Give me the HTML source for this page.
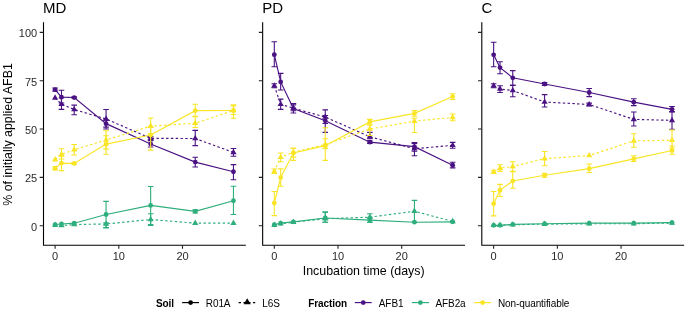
<!DOCTYPE html>
<html><head><meta charset="utf-8"><style>html,body{margin:0;padding:0;background:#fff;width:685px;height:311px;overflow:hidden}svg{display:block;will-change:transform}</style></head><body>
<svg width="685" height="311" viewBox="0 0 685 311">
<rect width="685" height="311" fill="#fff"/>
<path d="M55.1 89.62 L61.47 97.16 L74.21 97.54 L106.06 123.64 L150.65 143.93 L195.24 162.1 L233.46 171.77" fill="none" stroke="#4A1282" stroke-width="1.15"/>
<path d="M55.1 97.93 L61.47 104.11 L74.21 109.53 L106.06 119 L150.65 138.33 L195.24 138.52 L233.46 152.44" fill="none" stroke="#4A1282" stroke-width="1.15" stroke-dasharray="2.4 2.4"/>
<path d="M55.1 224.54 L61.47 223.96 L74.21 223.19 L106.06 214.49 L150.65 205.4 L195.24 211.4 L233.46 200.76" fill="none" stroke="#2EAE7C" stroke-width="1.15"/>
<path d="M55.1 225.12 L61.47 225.51 L74.21 224.54 L106.06 223.96 L150.65 219.51 L195.24 223.19 L233.46 223.19" fill="none" stroke="#2EAE7C" stroke-width="1.15" stroke-dasharray="2.4 2.4"/>
<path d="M55.1 168.29 L61.47 163.07 L74.21 163.46 L106.06 144.13 L150.65 135.04 L195.24 110.69 L233.46 110.49" fill="none" stroke="#F9E526" stroke-width="1.15"/>
<path d="M55.1 159.59 L61.47 154.37 L74.21 149.73 L106.06 140.07 L150.65 126.15 L195.24 123.25 L233.46 110.49" fill="none" stroke="#F9E526" stroke-width="1.15" stroke-dasharray="2.4 2.4"/>
<path d="M52.3 88.07H57.9M55.1 88.07V91.16M52.3 91.16H57.9M58.67 90.2H64.27M61.47 90.2V102.95M58.67 102.95H64.27M71.41 96.77H77.01M74.21 96.77V98.32M71.41 98.32H77.01M103.26 120.16H108.86M106.06 120.16V127.12M103.26 127.12H108.86M147.85 140.26H153.45M150.65 140.26V147.03M147.85 147.03H153.45M192.44 157.27H198.04M195.24 157.27V166.94M192.44 166.94H198.04M230.66 164.62H236.26M233.46 164.62V179.69M230.66 179.69H236.26" fill="none" stroke="#4A1282" stroke-width="1.1"/>
<circle cx="55.1" cy="89.62" r="2.4" fill="#4A1282"/>
<circle cx="61.47" cy="97.16" r="2.4" fill="#4A1282"/>
<circle cx="74.21" cy="97.54" r="2.4" fill="#4A1282"/>
<circle cx="106.06" cy="123.64" r="2.4" fill="#4A1282"/>
<circle cx="150.65" cy="143.93" r="2.4" fill="#4A1282"/>
<circle cx="195.24" cy="162.1" r="2.4" fill="#4A1282"/>
<circle cx="233.46" cy="171.77" r="2.4" fill="#4A1282"/>
<path d="M58.67 97.74H64.27M61.47 97.74V109.33M58.67 109.33H64.27M71.41 105.08H77.01M74.21 105.08V114.75M71.41 114.75H77.01M103.26 109.53H108.86M106.06 109.53V129.05M103.26 129.05H108.86M147.85 136.59H153.45M150.65 136.59V140.65M147.85 140.65H153.45M192.44 130.4H198.04M195.24 130.4V145.67M192.44 145.67H198.04M230.66 148.57H236.26M233.46 148.57V156.31M230.66 156.31H236.26" fill="none" stroke="#4A1282" stroke-width="1.1"/>
<path d="M55.1 94.35L58.2 99.72L52 99.72Z" fill="#4A1282"/>
<path d="M61.47 100.53L64.57 105.9L58.37 105.9Z" fill="#4A1282"/>
<path d="M74.21 105.95L77.31 111.32L71.11 111.32Z" fill="#4A1282"/>
<path d="M106.06 115.42L109.16 120.79L102.96 120.79Z" fill="#4A1282"/>
<path d="M150.65 134.75L153.75 140.12L147.55 140.12Z" fill="#4A1282"/>
<path d="M195.24 134.94L198.34 140.31L192.14 140.31Z" fill="#4A1282"/>
<path d="M233.46 148.86L236.56 154.23L230.36 154.23Z" fill="#4A1282"/>
<path d="M103.26 201.34H108.86M106.06 201.34V227.83M103.26 227.83H108.86M147.85 186.46H153.45M150.65 186.46V224.54M147.85 224.54H153.45M192.44 209.85H198.04M195.24 209.85V212.94M192.44 212.94H198.04M230.66 186.27H236.26M233.46 186.27V214.49M230.66 214.49H236.26" fill="none" stroke="#2EAE7C" stroke-width="1.1"/>
<circle cx="55.1" cy="224.54" r="2.4" fill="#2EAE7C"/>
<circle cx="61.47" cy="223.96" r="2.4" fill="#2EAE7C"/>
<circle cx="74.21" cy="223.19" r="2.4" fill="#2EAE7C"/>
<circle cx="106.06" cy="214.49" r="2.4" fill="#2EAE7C"/>
<circle cx="150.65" cy="205.4" r="2.4" fill="#2EAE7C"/>
<circle cx="195.24" cy="211.4" r="2.4" fill="#2EAE7C"/>
<circle cx="233.46" cy="200.76" r="2.4" fill="#2EAE7C"/>
<path d="M103.26 222.8H108.86M106.06 222.8V227.44M103.26 227.44H108.86M147.85 213.72H153.45M150.65 213.72V225.51M147.85 225.51H153.45" fill="none" stroke="#2EAE7C" stroke-width="1.1"/>
<path d="M55.1 221.54L58.2 226.91L52 226.91Z" fill="#2EAE7C"/>
<path d="M61.47 221.93L64.57 227.3L58.37 227.3Z" fill="#2EAE7C"/>
<path d="M74.21 220.96L77.31 226.33L71.11 226.33Z" fill="#2EAE7C"/>
<path d="M106.06 220.38L109.16 225.75L102.96 225.75Z" fill="#2EAE7C"/>
<path d="M150.65 215.93L153.75 221.3L147.55 221.3Z" fill="#2EAE7C"/>
<path d="M195.24 219.61L198.34 224.98L192.14 224.98Z" fill="#2EAE7C"/>
<path d="M233.46 219.61L236.56 224.98L230.36 224.98Z" fill="#2EAE7C"/>
<path d="M52.3 166.74H57.9M55.1 166.74V169.84M52.3 169.84H57.9M58.67 156.11H64.27M61.47 156.11V170.61M58.67 170.61H64.27M71.41 162.49H77.01M74.21 162.49V164.42M71.41 164.42H77.01M103.26 135.82H108.86M106.06 135.82V154.18M103.26 154.18H108.86M147.85 127.12H153.45M150.65 127.12V150.12M147.85 150.12H153.45M192.44 104.31H198.04M195.24 104.31V116.29M192.44 116.29H198.04M230.66 104.69H236.26M233.46 104.69V118.23M230.66 118.23H236.26" fill="none" stroke="#F9E526" stroke-width="1.1"/>
<circle cx="55.1" cy="168.29" r="2.4" fill="#F9E526"/>
<circle cx="61.47" cy="163.07" r="2.4" fill="#F9E526"/>
<circle cx="74.21" cy="163.46" r="2.4" fill="#F9E526"/>
<circle cx="106.06" cy="144.13" r="2.4" fill="#F9E526"/>
<circle cx="150.65" cy="135.04" r="2.4" fill="#F9E526"/>
<circle cx="195.24" cy="110.69" r="2.4" fill="#F9E526"/>
<circle cx="233.46" cy="110.49" r="2.4" fill="#F9E526"/>
<path d="M58.67 148.77H64.27M61.47 148.77V159.01M58.67 159.01H64.27M71.41 144.51H77.01M74.21 144.51V154.95M71.41 154.95H77.01M103.26 130.79H108.86M106.06 130.79V149.15M103.26 149.15H108.86M147.85 118.03H153.45M150.65 118.03V133.88M147.85 133.88H153.45M192.44 116.68H198.04M195.24 116.68V127.5M192.44 127.5H198.04M230.66 105.85H236.26M233.46 105.85V114.55M230.66 114.55H236.26" fill="none" stroke="#F9E526" stroke-width="1.1"/>
<path d="M55.1 156.01L58.2 161.38L52 161.38Z" fill="#F9E526"/>
<path d="M61.47 150.79L64.57 156.16L58.37 156.16Z" fill="#F9E526"/>
<path d="M74.21 146.15L77.31 151.52L71.11 151.52Z" fill="#F9E526"/>
<path d="M106.06 136.49L109.16 141.86L102.96 141.86Z" fill="#F9E526"/>
<path d="M150.65 122.57L153.75 127.94L147.55 127.94Z" fill="#F9E526"/>
<path d="M195.24 119.67L198.34 125.04L192.14 125.04Z" fill="#F9E526"/>
<path d="M233.46 106.91L236.56 112.28L230.36 112.28Z" fill="#F9E526"/>
<path d="M274.3 54.63 L280.67 81.88 L293.41 108.56 L325.26 120.74 L369.85 142.19 L414.44 146.64 L452.66 165.2" fill="none" stroke="#4A1282" stroke-width="1.15"/>
<path d="M274.3 85.75 L280.67 104.31 L293.41 108.17 L325.26 117.07 L369.85 136.78 L414.44 148.77 L452.66 145.29" fill="none" stroke="#4A1282" stroke-width="1.15" stroke-dasharray="2.4 2.4"/>
<path d="M274.3 224.73 L280.67 223.19 L293.41 221.83 L325.26 217.97 L369.85 220.09 L414.44 222.22 L452.66 221.83" fill="none" stroke="#2EAE7C" stroke-width="1.15"/>
<path d="M274.3 225.12 L280.67 223.77 L293.41 222.22 L325.26 218.74 L369.85 217.19 L414.44 211.2 L452.66 221.45" fill="none" stroke="#2EAE7C" stroke-width="1.15" stroke-dasharray="2.4 2.4"/>
<path d="M274.3 203.08 L280.67 177.57 L293.41 153.02 L325.26 145.67 L369.85 121.9 L414.44 113.39 L452.66 96.58" fill="none" stroke="#F9E526" stroke-width="1.15"/>
<path d="M274.3 171.58 L280.67 157.27 L293.41 152.25 L325.26 144.51 L369.85 129.05 L414.44 121.12 L452.66 117.45" fill="none" stroke="#F9E526" stroke-width="1.15" stroke-dasharray="2.4 2.4"/>
<path d="M271.5 41.68H277.1M274.3 41.68V66.81M271.5 66.81H277.1M277.87 73.38H283.47M280.67 73.38V90M277.87 90H283.47M290.61 103.53H296.21M293.41 103.53V113.01M290.61 113.01H296.21M322.46 115.52H328.06M325.26 115.52V132.34M322.46 132.34H328.06M367.05 140.84H372.65M369.85 140.84V143.55M367.05 143.55H372.65M411.64 142.58H417.24M414.44 142.58V151.28M411.64 151.28H417.24M449.86 162.3H455.46M452.66 162.3V167.9M449.86 167.9H455.46" fill="none" stroke="#4A1282" stroke-width="1.1"/>
<circle cx="274.3" cy="54.63" r="2.4" fill="#4A1282"/>
<circle cx="280.67" cy="81.88" r="2.4" fill="#4A1282"/>
<circle cx="293.41" cy="108.56" r="2.4" fill="#4A1282"/>
<circle cx="325.26" cy="120.74" r="2.4" fill="#4A1282"/>
<circle cx="369.85" cy="142.19" r="2.4" fill="#4A1282"/>
<circle cx="414.44" cy="146.64" r="2.4" fill="#4A1282"/>
<circle cx="452.66" cy="165.2" r="2.4" fill="#4A1282"/>
<path d="M271.5 83.82H277.1M274.3 83.82V87.68M271.5 87.68H277.1M277.87 99.09H283.47M280.67 99.09V109.33M277.87 109.33H283.47M290.61 104.89H296.21M293.41 104.89V110.69M290.61 110.69H296.21M322.46 109.91H328.06M325.26 109.91V123.44M322.46 123.44H328.06M367.05 132.34H372.65M369.85 132.34V138.71M367.05 138.71H372.65M411.64 143.55H417.24M414.44 143.55V155.73M411.64 155.73H417.24M449.86 142.39H455.46M452.66 142.39V148.19M449.86 148.19H455.46" fill="none" stroke="#4A1282" stroke-width="1.1"/>
<path d="M274.3 82.17L277.4 87.54L271.2 87.54Z" fill="#4A1282"/>
<path d="M280.67 100.73L283.77 106.1L277.57 106.1Z" fill="#4A1282"/>
<path d="M293.41 104.59L296.51 109.96L290.31 109.96Z" fill="#4A1282"/>
<path d="M325.26 113.49L328.36 118.86L322.16 118.86Z" fill="#4A1282"/>
<path d="M369.85 133.2L372.95 138.57L366.75 138.57Z" fill="#4A1282"/>
<path d="M414.44 145.19L417.54 150.56L411.34 150.56Z" fill="#4A1282"/>
<path d="M452.66 141.71L455.76 147.08L449.56 147.08Z" fill="#4A1282"/>
<path d="M322.46 212.17H328.06M325.26 212.17V222.22M322.46 222.22H328.06M367.05 217.97H372.65M369.85 217.97V222.22M367.05 222.22H372.65" fill="none" stroke="#2EAE7C" stroke-width="1.1"/>
<circle cx="274.3" cy="224.73" r="2.4" fill="#2EAE7C"/>
<circle cx="280.67" cy="223.19" r="2.4" fill="#2EAE7C"/>
<circle cx="293.41" cy="221.83" r="2.4" fill="#2EAE7C"/>
<circle cx="325.26" cy="217.97" r="2.4" fill="#2EAE7C"/>
<circle cx="369.85" cy="220.09" r="2.4" fill="#2EAE7C"/>
<circle cx="414.44" cy="222.22" r="2.4" fill="#2EAE7C"/>
<circle cx="452.66" cy="221.83" r="2.4" fill="#2EAE7C"/>
<path d="M322.46 212.17H328.06M325.26 212.17V222.22M322.46 222.22H328.06M367.05 213.72H372.65M369.85 213.72V222.22M367.05 222.22H372.65M411.64 200.38H417.24M414.44 200.38V222.22M411.64 222.22H417.24" fill="none" stroke="#2EAE7C" stroke-width="1.1"/>
<path d="M274.3 221.54L277.4 226.91L271.2 226.91Z" fill="#2EAE7C"/>
<path d="M280.67 220.19L283.77 225.56L277.57 225.56Z" fill="#2EAE7C"/>
<path d="M293.41 218.64L296.51 224.01L290.31 224.01Z" fill="#2EAE7C"/>
<path d="M325.26 215.16L328.36 220.53L322.16 220.53Z" fill="#2EAE7C"/>
<path d="M369.85 213.62L372.95 218.98L366.75 218.98Z" fill="#2EAE7C"/>
<path d="M414.44 207.62L417.54 212.99L411.34 212.99Z" fill="#2EAE7C"/>
<path d="M452.66 217.87L455.76 223.24L449.56 223.24Z" fill="#2EAE7C"/>
<path d="M271.5 191.49H277.1M274.3 191.49V215.65M271.5 215.65H277.1M277.87 168.87H283.47M280.67 168.87V186.27M277.87 186.27H283.47M290.61 148.57H296.21M293.41 148.57V160.36M290.61 160.36H296.21M322.46 127.7H328.06M325.26 127.7V160.36M322.46 160.36H328.06M367.05 119.38H372.65M369.85 119.38V124.22M367.05 124.22H372.65M411.64 110.49H417.24M414.44 110.49V116.29M411.64 116.29H417.24M449.86 93.68H455.46M452.66 93.68V99.48M449.86 99.48H455.46" fill="none" stroke="#F9E526" stroke-width="1.1"/>
<circle cx="274.3" cy="203.08" r="2.4" fill="#F9E526"/>
<circle cx="280.67" cy="177.57" r="2.4" fill="#F9E526"/>
<circle cx="293.41" cy="153.02" r="2.4" fill="#F9E526"/>
<circle cx="325.26" cy="145.67" r="2.4" fill="#F9E526"/>
<circle cx="369.85" cy="121.9" r="2.4" fill="#F9E526"/>
<circle cx="414.44" cy="113.39" r="2.4" fill="#F9E526"/>
<circle cx="452.66" cy="96.58" r="2.4" fill="#F9E526"/>
<path d="M271.5 169.06H277.1M274.3 169.06V173.51M271.5 173.51H277.1M277.87 153.02H283.47M280.67 153.02V161.72M277.87 161.72H283.47M290.61 147.99H296.21M293.41 147.99V157.08M290.61 157.08H296.21M322.46 138.71H328.06M325.26 138.71V148.38M322.46 148.38H328.06M367.05 125.18H372.65M369.85 125.18V135.43M367.05 135.43H372.65M411.64 118.23H417.24M414.44 118.23V132.53M411.64 132.53H417.24M449.86 113.97H455.46M452.66 113.97V120.74M449.86 120.74H455.46" fill="none" stroke="#F9E526" stroke-width="1.1"/>
<path d="M274.3 168L277.4 173.37L271.2 173.37Z" fill="#F9E526"/>
<path d="M280.67 153.69L283.77 159.06L277.57 159.06Z" fill="#F9E526"/>
<path d="M293.41 148.67L296.51 154.04L290.31 154.04Z" fill="#F9E526"/>
<path d="M325.26 140.93L328.36 146.3L322.16 146.3Z" fill="#F9E526"/>
<path d="M369.85 125.47L372.95 130.84L366.75 130.84Z" fill="#F9E526"/>
<path d="M414.44 117.55L417.54 122.91L411.34 122.91Z" fill="#F9E526"/>
<path d="M452.66 113.87L455.76 119.24L449.56 119.24Z" fill="#F9E526"/>
<path d="M493.65 54.82 L500.02 67.58 L512.76 77.83 L544.61 84.01 L589.2 92.52 L633.79 102.18 L672.01 109.33" fill="none" stroke="#4A1282" stroke-width="1.15"/>
<path d="M493.65 85.75 L500.02 89.04 L512.76 90.58 L544.61 101.99 L589.2 104.5 L633.79 119.38 L672.01 120.35" fill="none" stroke="#4A1282" stroke-width="1.15" stroke-dasharray="2.4 2.4"/>
<path d="M493.65 225.31 L500.02 225.31 L512.76 224.35 L544.61 223.77 L589.2 223.19 L633.79 223.19 L672.01 222.61" fill="none" stroke="#2EAE7C" stroke-width="1.15"/>
<path d="M493.65 225.31 L500.02 225.12 L512.76 224.73 L544.61 224.15 L589.2 223.77 L633.79 223.77 L672.01 222.99" fill="none" stroke="#2EAE7C" stroke-width="1.15" stroke-dasharray="2.4 2.4"/>
<path d="M493.65 203.66 L500.02 190.13 L512.76 181.05 L544.61 175.25 L589.2 168.68 L633.79 158.82 L672.01 150.51" fill="none" stroke="#F9E526" stroke-width="1.15"/>
<path d="M493.65 171.96 L500.02 168.1 L512.76 166.55 L544.61 158.62 L589.2 155.53 L633.79 140.84 L672.01 140.26" fill="none" stroke="#F9E526" stroke-width="1.15" stroke-dasharray="2.4 2.4"/>
<path d="M490.85 42.26H496.45M493.65 42.26V66.81M490.85 66.81H496.45M497.22 61.78H502.82M500.02 61.78V73.77M497.22 73.77H502.82M509.96 70.67H515.56M512.76 70.67V85.36M509.96 85.36H515.56M541.81 82.66H547.41M544.61 82.66V85.36M541.81 85.36H547.41M586.4 88.46H592M589.2 88.46V96.58M586.4 96.58H592M630.99 98.7H636.59M633.79 98.7V105.66M630.99 105.66H636.59M669.21 106.43H674.81M672.01 106.43V111.65M669.21 111.65H674.81" fill="none" stroke="#4A1282" stroke-width="1.1"/>
<circle cx="493.65" cy="54.82" r="2.4" fill="#4A1282"/>
<circle cx="500.02" cy="67.58" r="2.4" fill="#4A1282"/>
<circle cx="512.76" cy="77.83" r="2.4" fill="#4A1282"/>
<circle cx="544.61" cy="84.01" r="2.4" fill="#4A1282"/>
<circle cx="589.2" cy="92.52" r="2.4" fill="#4A1282"/>
<circle cx="633.79" cy="102.18" r="2.4" fill="#4A1282"/>
<circle cx="672.01" cy="109.33" r="2.4" fill="#4A1282"/>
<path d="M490.85 83.82H496.45M493.65 83.82V87.68M490.85 87.68H496.45M497.22 85.75H502.82M500.02 85.75V92.52M497.22 92.52H502.82M509.96 85.36H515.56M512.76 85.36V96.77M509.96 96.77H515.56M541.81 94.64H547.41M544.61 94.64V107.01M541.81 107.01H547.41M586.4 103.15H592M589.2 103.15V105.85M586.4 105.85H592M630.99 112.04H636.59M633.79 112.04V125.96M630.99 125.96H636.59M669.21 111.85H674.81M672.01 111.85V129.24M669.21 129.24H674.81" fill="none" stroke="#4A1282" stroke-width="1.1"/>
<path d="M493.65 82.17L496.75 87.54L490.55 87.54Z" fill="#4A1282"/>
<path d="M500.02 85.46L503.12 90.83L496.92 90.83Z" fill="#4A1282"/>
<path d="M512.76 87L515.86 92.37L509.66 92.37Z" fill="#4A1282"/>
<path d="M544.61 98.41L547.71 103.78L541.51 103.78Z" fill="#4A1282"/>
<path d="M589.2 100.92L592.3 106.29L586.1 106.29Z" fill="#4A1282"/>
<path d="M633.79 115.81L636.89 121.17L630.69 121.17Z" fill="#4A1282"/>
<path d="M672.01 116.77L675.11 122.14L668.91 122.14Z" fill="#4A1282"/>
<path d="" fill="none" stroke="#2EAE7C" stroke-width="1.1"/>
<circle cx="493.65" cy="225.31" r="2.4" fill="#2EAE7C"/>
<circle cx="500.02" cy="225.31" r="2.4" fill="#2EAE7C"/>
<circle cx="512.76" cy="224.35" r="2.4" fill="#2EAE7C"/>
<circle cx="544.61" cy="223.77" r="2.4" fill="#2EAE7C"/>
<circle cx="589.2" cy="223.19" r="2.4" fill="#2EAE7C"/>
<circle cx="633.79" cy="223.19" r="2.4" fill="#2EAE7C"/>
<circle cx="672.01" cy="222.61" r="2.4" fill="#2EAE7C"/>
<path d="" fill="none" stroke="#2EAE7C" stroke-width="1.1"/>
<path d="M493.65 221.73L496.75 227.1L490.55 227.1Z" fill="#2EAE7C"/>
<path d="M500.02 221.54L503.12 226.91L496.92 226.91Z" fill="#2EAE7C"/>
<path d="M512.76 221.15L515.86 226.52L509.66 226.52Z" fill="#2EAE7C"/>
<path d="M544.61 220.57L547.71 225.94L541.51 225.94Z" fill="#2EAE7C"/>
<path d="M589.2 220.19L592.3 225.56L586.1 225.56Z" fill="#2EAE7C"/>
<path d="M633.79 220.19L636.89 225.56L630.69 225.56Z" fill="#2EAE7C"/>
<path d="M672.01 219.41L675.11 224.78L668.91 224.78Z" fill="#2EAE7C"/>
<path d="M490.85 191.49H496.45M493.65 191.49V215.84M490.85 215.84H496.45M497.22 184.33H502.82M500.02 184.33V196.51M497.22 196.51H502.82M509.96 171.38H515.56M512.76 171.38V188.2M509.96 188.2H515.56M541.81 173.32H547.41M544.61 173.32V177.18M541.81 177.18H547.41M586.4 164.04H592M589.2 164.04V172.54M586.4 172.54H592M630.99 155.73H636.59M633.79 155.73V161.52M630.99 161.52H636.59M669.21 146.06H674.81M672.01 146.06V154.18M669.21 154.18H674.81" fill="none" stroke="#F9E526" stroke-width="1.1"/>
<circle cx="493.65" cy="203.66" r="2.4" fill="#F9E526"/>
<circle cx="500.02" cy="190.13" r="2.4" fill="#F9E526"/>
<circle cx="512.76" cy="181.05" r="2.4" fill="#F9E526"/>
<circle cx="544.61" cy="175.25" r="2.4" fill="#F9E526"/>
<circle cx="589.2" cy="168.68" r="2.4" fill="#F9E526"/>
<circle cx="633.79" cy="158.82" r="2.4" fill="#F9E526"/>
<circle cx="672.01" cy="150.51" r="2.4" fill="#F9E526"/>
<path d="M490.85 170.22H496.45M493.65 170.22V173.51M490.85 173.51H496.45M497.22 164.81H502.82M500.02 164.81V171.38M497.22 171.38H502.82M509.96 161.72H515.56M512.76 161.72V171.58M509.96 171.58H515.56M541.81 151.47H547.41M544.61 151.47V165.78M541.81 165.78H547.41M630.99 133.69H636.59M633.79 133.69V147.22M630.99 147.22H636.59M669.21 130.02H674.81M672.01 130.02V147.99M669.21 147.99H674.81" fill="none" stroke="#F9E526" stroke-width="1.1"/>
<path d="M493.65 168.38L496.75 173.75L490.55 173.75Z" fill="#F9E526"/>
<path d="M500.02 164.52L503.12 169.89L496.92 169.89Z" fill="#F9E526"/>
<path d="M512.76 162.97L515.86 168.34L509.66 168.34Z" fill="#F9E526"/>
<path d="M544.61 155.05L547.71 160.41L541.51 160.41Z" fill="#F9E526"/>
<path d="M589.2 151.95L592.3 157.32L586.1 157.32Z" fill="#F9E526"/>
<path d="M633.79 137.26L636.89 142.63L630.69 142.63Z" fill="#F9E526"/>
<path d="M672.01 136.68L675.11 142.05L668.91 142.05Z" fill="#F9E526"/>
<path d="M43.5 22.9V245.2H245.3" fill="none" stroke="#000" stroke-width="1.1" stroke-linecap="square"/>
<path d="M39.7 225.7H43.5M39.7 177.38H43.5M39.7 129.05H43.5M39.7 80.72H43.5M39.7 32.4H43.5M55.1 245.2V248.8M118.8 245.2V248.8M182.5 245.2V248.8" stroke="#222" stroke-width="1.1"/>
<path d="M262.65 22.9V245.2H464.45" fill="none" stroke="#000" stroke-width="1.1" stroke-linecap="square"/>
<path d="M258.85 225.7H262.65M258.85 177.38H262.65M258.85 129.05H262.65M258.85 80.72H262.65M258.85 32.4H262.65M274.3 245.2V248.8M338 245.2V248.8M401.7 245.2V248.8" stroke="#222" stroke-width="1.1"/>
<path d="M481.8 22.9V245.2H683.6" fill="none" stroke="#000" stroke-width="1.1" stroke-linecap="square"/>
<path d="M478 225.7H481.8M478 177.38H481.8M478 129.05H481.8M478 80.72H481.8M478 32.4H481.8M493.65 245.2V248.8M557.35 245.2V248.8M621.05 245.2V248.8" stroke="#222" stroke-width="1.1"/>
<g font-family="Liberation Sans, sans-serif" font-size="11" fill="#2a2a2a" text-anchor="end">
<text x="37.2" y="230.5">0</text>
<text x="37.2" y="182.18">25</text>
<text x="37.2" y="133.85">50</text>
<text x="37.2" y="85.52">75</text>
<text x="37.2" y="37.2">100</text>
</g>
<g font-family="Liberation Sans, sans-serif" font-size="11" fill="#2a2a2a" text-anchor="middle">
<text x="55.1" y="259.8">0</text>
<text x="118.8" y="259.8">10</text>
<text x="182.5" y="259.8">20</text>
<text x="274.3" y="259.8">0</text>
<text x="338" y="259.8">10</text>
<text x="401.7" y="259.8">20</text>
<text x="493.65" y="259.8">0</text>
<text x="557.35" y="259.8">10</text>
<text x="621.05" y="259.8">20</text>
</g>
<g font-family="Liberation Sans, sans-serif" font-size="15" fill="#000">
<text x="43.1" y="12.9">MD</text>
<text x="262.25" y="12.9">PD</text>
<text x="481.4" y="12.9">C</text>
</g>
<text font-family="Liberation Sans, sans-serif" font-size="12.4" fill="#000" text-anchor="middle" x="363.7" y="275.3">Incubation time (days)</text>
<text font-family="Liberation Sans, sans-serif" font-size="12.4" fill="#000" text-anchor="middle" transform="translate(12.1 134.5) rotate(-90)">% of initially applied AFB1</text>
<g font-family="Liberation Sans, sans-serif" font-size="10" letter-spacing="-0.1" fill="#000">
<text x="156" y="306.8" font-weight="bold">Soil</text>
<text x="205.8" y="306.8">R01A</text>
<text x="262.3" y="306.8">L6S</text>
<text x="308.3" y="306.8" font-weight="bold">Fraction</text>
<text x="378.8" y="306.8">AFB1</text>
<text x="435.5" y="306.8">AFB2a</text>
<text x="498" y="306.8">Non-quantifiable</text>
</g>
<path d="M182.1 302.6H199" stroke="#000" stroke-width="1.15"/><circle cx="190.6" cy="302.6" r="2.4" fill="#000"/>
<path d="M238.6 302.6H255.2" stroke="#000" stroke-width="1.15" stroke-dasharray="2.4 2.4"/>
<path d="M247.2 298.26L250.7 304.32L243.7 304.32Z" fill="#000"/>
<path d="M354.8 302.6H371.7" stroke="#4A1282" stroke-width="1.15"/><circle cx="363.25" cy="302.6" r="2.4" fill="#4A1282"/>
<path d="M411.8 302.6H429" stroke="#2EAE7C" stroke-width="1.15"/><circle cx="420.40" cy="302.6" r="2.4" fill="#2EAE7C"/>
<path d="M474.2 302.6H491" stroke="#F9E526" stroke-width="1.15"/><circle cx="482.60" cy="302.6" r="2.4" fill="#F9E526"/>
</svg>
</body></html>
